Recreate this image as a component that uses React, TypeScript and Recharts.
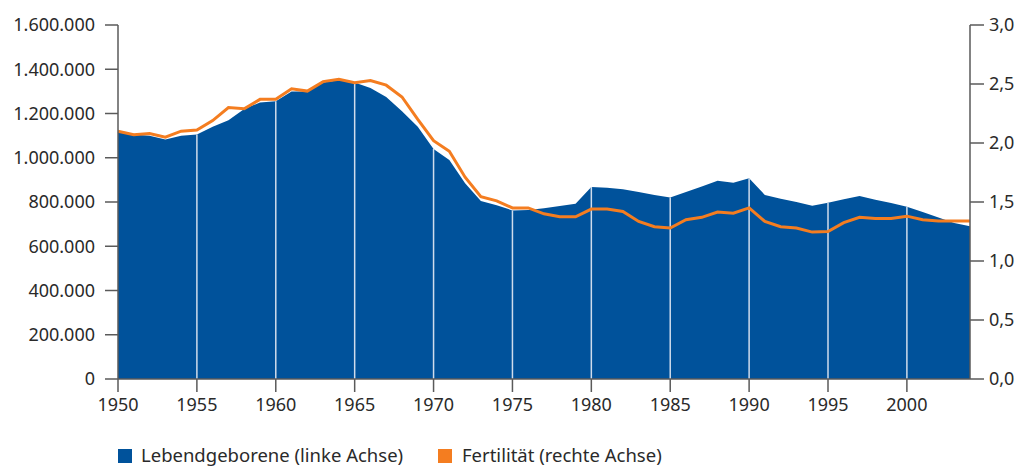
import {
  ComposedChart,
  Area,
  Line,
  XAxis,
  YAxis,
  ReferenceLine,
} from "recharts";

const years = [
  1950, 1951, 1952, 1953, 1954, 1955, 1956, 1957, 1958, 1959,
  1960, 1961, 1962, 1963, 1964, 1965, 1966, 1967, 1968, 1969,
  1970, 1971, 1972, 1973, 1974, 1975, 1976, 1977, 1978, 1979,
  1980, 1981, 1982, 1983, 1984, 1985, 1986, 1987, 1988, 1989,
  1990, 1991, 1992, 1993, 1994, 1995, 1996, 1997, 1998, 1999,
  2000, 2001, 2002, 2003, 2004,
];

// Lebendgeborene (linke Achse)
const births = [
  1118000, 1105000, 1100000, 1083000, 1100000, 1105000, 1140000, 1170000, 1220000, 1250000,
  1255000, 1300000, 1300000, 1340000, 1350000, 1340000, 1315000, 1275000, 1210000, 1140000,
  1040000, 990000, 885000, 805000, 785000, 762000, 764000, 772000, 782000, 792000,
  868000, 864000, 858000, 845000, 832000, 820000, 845000, 870000, 896000, 887000,
  907000, 832000, 815000, 800000, 783000, 797000, 812000, 827000, 810000, 795000,
  778000, 755000, 730000, 705000, 690000,
];

// Fertilität (rechte Achse)
const fertility = [
  2.1, 2.07, 2.08, 2.05, 2.1, 2.11, 2.19, 2.3, 2.29, 2.37,
  2.37, 2.46, 2.44, 2.52, 2.54, 2.51, 2.53, 2.49, 2.39, 2.2,
  2.02, 1.93, 1.71, 1.545, 1.51, 1.45, 1.45, 1.4, 1.375, 1.375,
  1.44, 1.44, 1.42, 1.335, 1.29, 1.28, 1.35, 1.37, 1.415, 1.405,
  1.45, 1.335, 1.29, 1.28, 1.245, 1.25, 1.325, 1.37, 1.36, 1.36,
  1.38, 1.35, 1.34, 1.34, 1.34,
];

const xTicks = [1950, 1955, 1960, 1965, 1970, 1975, 1980, 1985, 1990, 1995, 2000];
const gridYears = [1955, 1960, 1965, 1970, 1975, 1980, 1985, 1990, 1995, 2000];
const leftTicks = [0, 200000, 400000, 600000, 800000, 1000000, 1200000, 1400000, 1600000];
const rightTicks = [0, 0.5, 1, 1.5, 2, 2.5, 3];

const BLUE = "#00529b";
const ORANGE = "#f47d20";
const AXIS = "#5a5a5a";
const TEXT = "#2a2a2a";
const FONT = "'Noto Sans', sans-serif";

const data = years.map((jahr, i) => ({
  jahr,
  geborene: births[i],
  fertilitaet: fertility[i],
}));

const fmtLeft = (v: number) =>
  v === 0 ? "0" : String(v).replace(/\B(?=(\d{3})+(?!\d))/g, ".");
const fmtRight = (v: number) => v.toFixed(1).replace(".", ",");

const tickStyle = { fill: TEXT, fontSize: 18, fontFamily: FONT };

export default function App() {
  return (
    <div
      style={{
        position: "absolute",
        left: 0,
        top: 0,
        width: 1016,
        height: 468,
        background: "#fff",
        fontFamily: FONT,
      }}
    >
      <ComposedChart
        width={1016}
        height={468}
        data={data}
        margin={{ top: 25, right: 0, bottom: 49, left: 0 }}
      >
        <XAxis
          dataKey="jahr"
          type="number"
          domain={[1950, 2004]}
          ticks={xTicks}
          interval={0}
          height={40}
          tickSize={13}
          tickMargin={6}
          axisLine={{ stroke: AXIS, strokeWidth: 1.5 }}
          tickLine={{ stroke: AXIS, strokeWidth: 1.5 }}
          tick={tickStyle}
        />
        <YAxis
          yAxisId="left"
          domain={[0, 1600000]}
          ticks={leftTicks}
          interval={0}
          width={118}
          tickSize={13}
          tickMargin={10}
          tickFormatter={fmtLeft}
          axisLine={{ stroke: AXIS, strokeWidth: 1.5 }}
          tickLine={{ stroke: AXIS, strokeWidth: 1.5 }}
          tick={tickStyle}
        />
        <YAxis
          yAxisId="right"
          orientation="right"
          domain={[0, 3]}
          ticks={rightTicks}
          interval={0}
          width={46}
          tickSize={14}
          tickMargin={5}
          tickFormatter={fmtRight}
          axisLine={{ stroke: AXIS, strokeWidth: 1.5 }}
          tickLine={{ stroke: AXIS, strokeWidth: 1.5 }}
          tick={tickStyle}
        />
        <Area
          yAxisId="left"
          type="linear"
          dataKey="geborene"
          stroke="none"
          fill={BLUE}
          fillOpacity={1}
          isAnimationActive={false}
        />
        {gridYears.map((y) => (
          <ReferenceLine
            key={y}
            yAxisId="left"
            segment={[
              { x: y, y: 0 },
              { x: y, y: births[years.indexOf(y)] },
            ]}
            stroke="#cfdcec"
            strokeWidth={1.5}
          />
        ))}
        <Line
          yAxisId="right"
          type="linear"
          dataKey="fertilitaet"
          stroke={ORANGE}
          strokeWidth={3}
          dot={false}
          activeDot={false}
          isAnimationActive={false}
        />
      </ComposedChart>

      {/* Legende */}
      <div style={{ position: "absolute", left: 118, top: 449, width: 14, height: 14, background: BLUE }} />
      <div
        style={{
          position: "absolute",
          left: 141,
          top: 443,
          fontSize: 18.5,
          color: TEXT,
          whiteSpace: "nowrap",
          lineHeight: "24px",
        }}
      >
        Lebendgeborene (linke Achse)
      </div>
      <div style={{ position: "absolute", left: 438, top: 449, width: 14, height: 14, background: ORANGE }} />
      <div
        style={{
          position: "absolute",
          left: 462,
          top: 443,
          fontSize: 18.5,
          color: TEXT,
          whiteSpace: "nowrap",
          lineHeight: "24px",
        }}
      >
        Fertilität (rechte Achse)
      </div>
    </div>
  );
}
